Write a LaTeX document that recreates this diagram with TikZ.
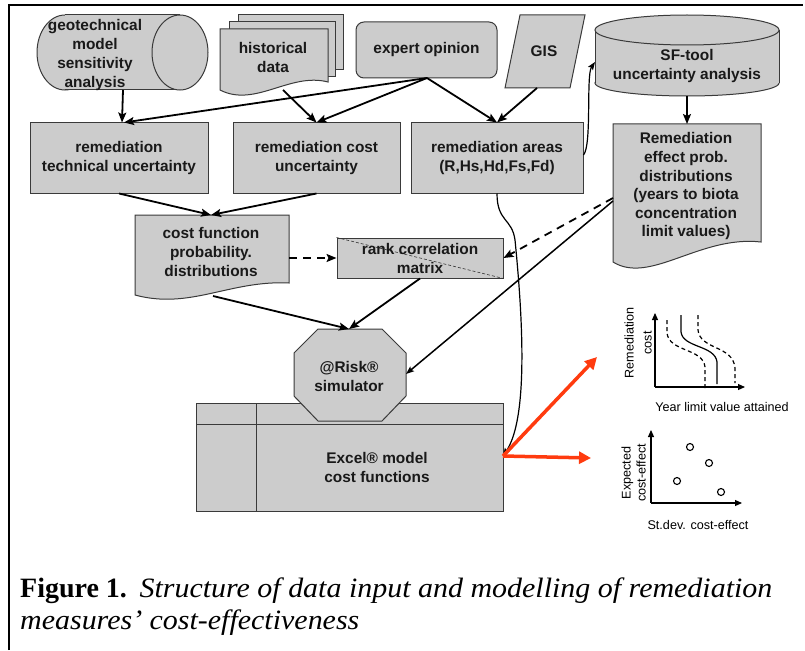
\documentclass[tikz,border=0pt]{standalone}
\usepackage{fontspec}
\setmainfont{Liberation Serif}
\setsansfont{Liberation Sans}
\usetikzlibrary{arrows.meta,calc}
\definecolor{boxgray}{HTML}{CCCCCC}
\definecolor{edgec}{HTML}{3A3A3A}
\definecolor{redarrow}{HTML}{FF3B0F}
\tikzset{
  shp/.style={draw=edgec, fill=boxgray, line width=1pt},
  lbl/.style={font=\sffamily\bfseries\fontsize{15.4}{19}\selectfont, align=center, inner sep=0pt, text=black!90},
  rbox/.style={shp, lbl, inner sep=0pt},
  arr/.style={line width=1.8pt, -{Stealth[length=10pt,width=8pt,inset=2pt]}},
  thinarr/.style={line width=1.2pt, -{Stealth[length=8pt,width=6pt,inset=1.5pt]}},
  dasharr/.style={line width=1.8pt, dash pattern=on 8pt off 6pt, -{Stealth[length=10pt,width=8pt,inset=2pt]}},
  redarr/.style={draw=redarrow, line width=3.5pt, -{Triangle[length=12pt,width=12pt]}},
  axisarr/.style={line width=1.1pt, -{Triangle[length=7pt,width=6pt]}},
  curve/.style={line width=1.2pt},
  dcurve/.style={line width=1.2pt, dash pattern=on 4pt off 3pt},
  chartlbl/.style={font=\sffamily\fontsize{12.6}{14}\selectfont, inner sep=0pt, align=center},
  captxt/.style={anchor=base west, inner sep=0pt, font=\fontsize{28}{32}\selectfont},
}
\begin{document}
\begin{tikzpicture}[x=1pt,y=-1pt]
\useasboundingbox (0,0) rectangle (805,650);
% frame
\draw[line width=2pt] (9,650) -- (9,5) -- (803,5);

% geotechnical cylinder (horizontal)
\filldraw[shp] (65,52.5) ellipse [x radius=28, y radius=37.5];
\fill[boxgray] (65,15) rectangle (180,90);
\draw[edgec, line width=1pt] (65,15) -- (180,15) (65,90) -- (180,90);
\filldraw[shp] (180,52.5) ellipse [x radius=28, y radius=37.5];
\node[lbl] (geo) at (95,55.5) {geotechnical\\model\\sensitivity\\analysis};
\coordinate (geo-s) at (123,90);

% historical data (stacked documents)
\filldraw[shp] (238,15) rectangle (343,70);
\filldraw[shp] (229,22) rectangle (335,77);
\filldraw[shp] (220,29) -- (328,29) -- (328,82) .. controls (290,72) and (255,108) .. (220,90) -- cycle;
\node[lbl] (hist) at (273,57) {historical\\data};
\coordinate (hist-s) at (283,90);

% expert opinion
\node[rbox, rounded corners=8pt, minimum width=141pt, minimum height=56pt] (expert) at (426.5,50) {expert opinion};
\coordinate (expert-s) at (427,78);

% GIS
\filldraw[shp] (520,15) -- (585,15) -- (570,88) -- (505,88) -- cycle;
\node[lbl] (gis) at (544,51) {GIS};
\coordinate (gis-s) at (537,88);

% SF-tool cylinder (vertical)
\filldraw[shp] (687,83) ellipse [x radius=92, y radius=13];
\fill[boxgray] (595,30) rectangle (779,83);
\draw[edgec, line width=1pt] (595,30) -- (595,83) (779,30) -- (779,83);
\filldraw[shp] (687,30) ellipse [x radius=92, y radius=15];
\node[lbl] (sf) at (687,66) {SF-tool\\uncertainty analysis};
\coordinate (sf-s) at (687,96);
\coordinate (sf-w) at (595,62);

% row 2
\node[rbox, minimum width=178pt, minimum height=70pt] (remtech) at (119,158) {remediation\\technical uncertainty};
\node[rbox, minimum width=167pt, minimum height=70pt] (remcost) at (316.5,158) {remediation cost\\uncertainty};
\node[rbox, minimum width=172pt, minimum height=70pt] (remareas) at (497,158) {remediation areas\\(R,Hs,Hd,Fs,Fd)};

% Remediation effect (document)
\filldraw[shp] (613,124) -- (761,124) -- (761,242) .. controls (700,235) and (650,285) .. (613,262) -- cycle;
\node[lbl, font=\sffamily\bfseries\fontsize{15.4}{18.6}\selectfont] (effect) at (686,186.5) {Remediation\\effect prob.\\distributions\\(years to biota\\concentration\\limit values)};
\coordinate (effect-n) at (687,124);
\coordinate (effect-w1) at (613,198);
\coordinate (effect-w2) at (613,201);

% cost function (document)
\filldraw[shp] (135,215) -- (289,215) -- (289,283) .. controls (230,280) and (190,310) .. (135,295) -- cycle;
\node[lbl] (costfn) at (211,252) {cost function\\probability.\\distributions};
\coordinate (costfn-n) at (211,215);
\coordinate (costfn-e) at (289,258);
\coordinate (costfn-s) at (213,296);

% rank correlation matrix
\node[rbox, minimum width=166pt, minimum height=40pt] (rank) at (420,258) {};
\draw[line width=0.6pt, dash pattern=on 3pt off 2pt, black!80] (rank.north west) -- (rank.south east);
\node[lbl] (ranktxt) at (420,258) {rank correlation\\matrix};

% Excel box
\node[shp, minimum width=307pt, minimum height=108pt, inner sep=0pt] (excelbox) at (349.5,457) {};
\draw[edgec, line width=1pt] (196,424) -- (503,424) (256,403) -- (256,511);
\node[lbl] (excel) at (377,467.5) {Excel® model\\cost functions};
\coordinate (excel-e) at (503,456);

% @Risk octagon
\filldraw[shp] (318,329) -- (382,329) -- (406,353) -- (406,396) -- (382,421) -- (318,421) -- (294,396) -- (294,353) -- cycle;
\node[lbl] (risk) at (349,376) {@Risk®\\simulator};
\coordinate (risk-n) at (349,329);
\coordinate (risk-e) at (406,374);

% connectors
\draw[arr] (geo-s) -- ([xshift=3pt]remtech.north);
\draw[arr] (expert-s) -- ([xshift=5pt]remtech.north);
\draw[arr] (expert-s) -- (remcost.north);
\draw[arr] (hist-s) -- (remcost.north);
\draw[arr] (expert-s) -- (remareas.north);
\draw[arr] (gis-s) -- (remareas.north);
\draw[thinarr] (remareas.east |- 0,155) .. controls (592,145) and (586,75) .. (sf-w);
\draw[arr] (sf-s) -- (effect-n);
\draw[arr] (remtech.south) -- (costfn-n);
\draw[arr] (remcost.south) -- (costfn-n);
\draw[dasharr] (costfn-e) -- (rank.west);
\draw[dasharr] (effect-w1) -- (rank.east);
\draw[thinarr, line width=1.5pt] (effect-w2) -- (risk-e);
\draw[arr] (costfn-s) -- (risk-n);
\draw[arr] (rank.south) -- (risk-n);
\draw[thinarr] (remareas.south) .. controls (497,222) and (512,218) .. (515,240) .. controls (524,330) and (527,420) .. (excel-e);

% red arrows
\coordinate (red1) at (597,357);
\coordinate (red2) at (591,458);
\draw[redarr] (excel-e) -- (red1);
\draw[redarr] (excel-e) -- (red2);

% chart 1
\coordinate (o1) at (655,387);
\coordinate (y1) at (655,313);
\coordinate (x1) at (745,387);
\draw[axisarr] (o1) -- (y1);
\draw[axisarr] (o1) -- (x1);
\draw[curve] (681,315) -- (681,332) .. controls (683,348) and (715,345) .. (717,362) -- (717,384);
\draw[dcurve] (667,320) -- (667,333) .. controls (669,352) and (703,348) .. (705,367) -- (705,390);
\draw[dcurve] (698,315) -- (698,330) .. controls (700,350) and (733,345) .. (735,368) -- (735,383);
\node[chartlbl, rotate=90, font=\sffamily\fontsize{12.6}{18}\selectfont] (lab1) at (638,343) {Remediation\\cost};
\node[chartlbl] (xlab1) at (722,407) {Year limit value attained};

% chart 2
\coordinate (o2) at (651,503);
\coordinate (y2) at (651,430);
\coordinate (x2) at (742,503);
\draw[axisarr] (o2) -- (y2);
\draw[axisarr] (o2) -- (x2);
\foreach \p in {{(690,447)},{(709,463)},{(677,481)},{(721,492)}}
  \draw[line width=1.1pt] \p circle [radius=3.5];
\node[chartlbl, rotate=90, font=\sffamily\fontsize{12.6}{15}\selectfont] (lab2) at (633.5,473) {Expected\\cost-effect};
\node[chartlbl] (xlab2) at (698,525) {St.dev. cost-effect};

% caption
\node[captxt] (cap1) at (20,597) {\textbf{Figure 1.}\hspace{0.45em}\scalebox{1.07}[1]{\itshape Structure of data input and modelling of remediation}};
\node[captxt] (cap2) at (20,629) {\scalebox{1.07}[1]{\itshape measures’ cost-effectiveness}};
\end{tikzpicture}
\end{document}
